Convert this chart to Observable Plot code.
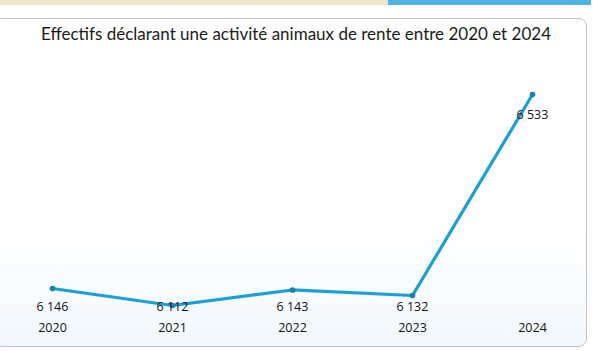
<!DOCTYPE html>
<html>
<head>
<meta charset="utf-8">
<script src="https://cdn.jsdelivr.net/npm/d3@7"></script>
<script src="https://cdn.jsdelivr.net/npm/@observablehq/plot@0.6"></script>
<style>
  html, body { margin: 0; padding: 0; background: #ffffff; }
  #wrap { position: relative; width: 595px; height: 351px; overflow: hidden; font-family: "Open Sans", sans-serif; }
  #barL { position: absolute; left: 0; top: 0; width: 388px; height: 5px; background: #efe6cf; }
  #barR { position: absolute; left: 388px; top: 0; width: 203px; height: 5px; background: #4fb4e4; }
  #card { position: absolute; left: -6px; top: 18px; width: 593px; height: 329px; border: 1px solid #c4c4c4; border-radius: 8px;
          background: linear-gradient(to bottom, #ffffff 65%, #f1f8fd 100%); box-sizing: border-box; }
  #title { position: absolute; left: 0; top: 23px; width: 592px; text-align: center; font-family: "Lato", sans-serif; font-size: 17px; color: #1a1a1a; }
  #chart { position: absolute; left: 0; top: 50px; }
</style>
</head>
<body>
<div id="wrap">
  <div id="barL"></div><div id="barR"></div>
  <div id="card"></div>
  <div id="title">Effectifs déclarant une activité animaux de rente entre 2020 et 2024</div>
  <div id="chart"></div>
</div>
<script>
const years = ["2020", "2021", "2022", "2023", "2024"];
const values = [6146, 6112, 6143, 6132, 6533];
const labels = ["6 146", "6 112", "6 143", "6 132", "6 533"];

const data = years.map((year, i) => ({year, value: values[i], label: labels[i]}));
const fmtFloor = 6110;

const plot = Plot.plot({
  width: 595,
  height: 295,
  marginTop: 0,
  marginBottom: 18,
  marginLeft: 0,
  marginRight: 0,
  style: {background: "transparent", fontFamily: "Open Sans, sans-serif"},
  x: {type: "point", domain: years, range: [52, 532], padding: 0, axis: null},
  y: {domain: [6112, 6533], range: [255, 44], axis: null},
  marks: [
    Plot.line(data, {x: "year", y: "value", stroke: "#1b9fd6", strokeWidth: 3.2, curve: "linear"}),
    Plot.dot(data, {x: "year", y: "value", r: 2.8, fill: "#1f7ea8", stroke: "none"}),
    Plot.text(data, {x: "year", y: d => Math.max(d.value - 40, fmtFloor), text: "label", fontSize: 12.5, fill: "#111", textAnchor: "middle", lineAnchor: "middle"}),
    Plot.text(years, {x: d => d, frameAnchor: "bottom", text: d => d, fontSize: 12.5, fill: "#111", lineAnchor: "middle"})
  ]
});
document.getElementById("chart").appendChild(plot);
</script>
</body>
</html>
